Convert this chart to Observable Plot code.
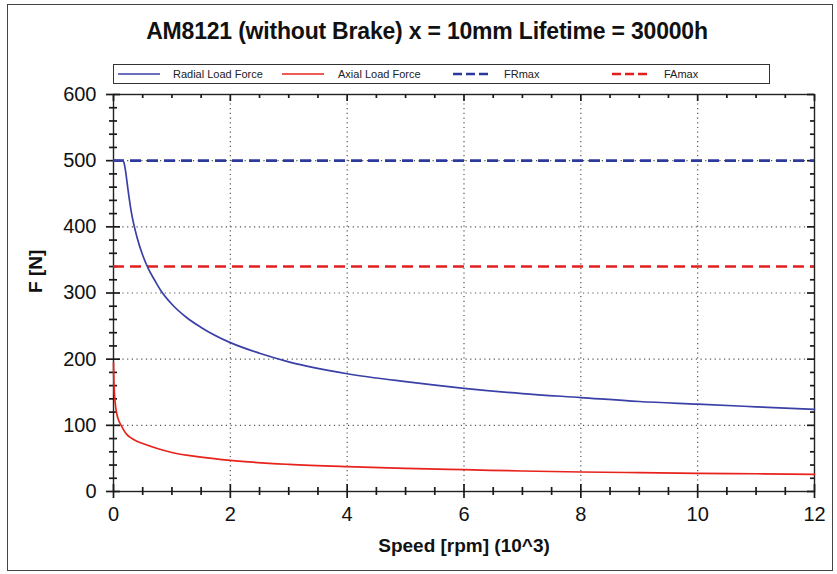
<!DOCTYPE html>
<html>
<head>
<meta charset="utf-8">
<script src="https://cdn.jsdelivr.net/npm/d3@7"></script>
<script src="https://cdn.jsdelivr.net/npm/@observablehq/plot@0.6"></script>
<style>
  body { margin: 0; background: #fff; font-family: "Liberation Sans", Arial, sans-serif; }
  #wrap { position: relative; width: 837px; height: 574px; overflow: hidden; }
  #border { position: absolute; left: 7px; top: 4px; width: 826px; height: 567px; border: 1px solid #444; box-sizing: border-box; }
  #title { position: absolute; left: 0; top: 18px; width: 854px; text-align: center; font-weight: bold; font-size: 23px; color: #111; letter-spacing: -0.2px; }
  #legend { position: absolute; left: 113px; top: 64px; width: 657px; height: 20px; border: 1px solid #333; box-sizing: border-box; font-size: 11px; color: #222; }
  #legend .item { position: absolute; top: 0; height: 18px; line-height: 18px; white-space: nowrap; }
  #legend svg { position: absolute; top: 0; }
  #chart { position: absolute; left: 0; top: 0; }
</style>
</head>
<body>
<div id="wrap">
  <div id="border"></div>
  <div id="title">AM8121 (without Brake) x = 10mm Lifetime = 30000h</div>
  <div id="legend"></div>
  <div id="chart"></div>
</div>
<script>
// Data
const radialSpeed = [0, 0.16, 0.18, 0.2, 0.25, 0.3, 0.4, 0.5, 0.6, 0.7, 0.8, 1, 1.25, 1.5, 2, 2.5, 3, 4, 5, 6, 7, 8, 9, 10, 11, 12];
const radialForce = [500, 500, 497, 488, 455, 425, 385, 357, 336, 320, 305, 283, 263, 248, 225, 209, 196, 178, 166, 156, 148, 142, 136, 132, 128, 124];
const axialSpeed = [0, 0.005, 0.015, 0.03, 0.06, 0.1, 0.13, 0.18, 0.23, 0.3, 0.4, 0.5, 0.75, 1, 1.5, 2, 3, 4, 5, 6, 7, 8, 9, 10, 11, 12];
const axialForce = [195, 172, 150, 133, 116, 105, 100, 92, 86, 81, 76, 72.5, 65, 59, 52, 47, 41, 37.5, 35, 33, 31, 29.5, 28.5, 27.5, 26.8, 26];
const frMax = 500;
const faMax = 340;
const xMajor = [0, 2, 4, 6, 8, 10, 12];
const xMinor = [0.5, 1, 1.5, 2.5, 3, 3.5, 4.5, 5, 5.5, 6.5, 7, 7.5, 8.5, 9, 9.5, 10.5, 11, 11.5];
const yMajor = [0, 100, 200, 300, 400, 500, 600];
const yMinor = [20, 40, 60, 80, 120, 140, 160, 180, 220, 240, 260, 280, 320, 340, 360, 380, 420, 440, 460, 480, 520, 540, 560, 580];
const seriesNames = ["Radial Load Force", "Axial Load Force", "FRmax", "FAmax"];

const blue = "#3a40a6";
const blueDash = "#2c3a9e";
const red = "#e8231d";
const redDash = "#e11f1f";

const radial = radialSpeed.map((s, i) => ({speed: s, force: radialForce[i]}));
const axial = axialSpeed.map((s, i) => ({speed: s, force: axialForce[i]}));

const W = 837, H = 574, mL = 113, mR = 23, mT = 94, mB = 83;
const pw = W - mL - mR, ph = H - mT - mB;
const tk = {stroke: "#1a1a1a", strokeWidth: 1.7};

const chart = Plot.plot({
  width: W,
  height: H,
  marginLeft: mL,
  marginRight: mR,
  marginTop: mT,
  marginBottom: mB,
  style: {fontFamily: "Liberation Sans, Arial, sans-serif", background: "transparent", color: "#111"},
  x: {domain: [0, 12]},
  y: {domain: [0, 600]},
  marks: [
    Plot.ruleX(xMajor.slice(1, -1), {stroke: "#555", strokeDasharray: "1.2,3.5", strokeWidth: 1.2}),
    Plot.ruleY(yMajor.slice(1, -1), {stroke: "#555", strokeDasharray: "1.2,3.5", strokeWidth: 1.2}),
    Plot.frame({stroke: "#222", strokeWidth: 1.4}),
    // bottom crossing ticks
    Plot.ruleX(xMajor, {...tk, insetTop: ph - 7, insetBottom: -7}),
    Plot.ruleX(xMinor, {...tk, insetTop: ph - 4, insetBottom: -4}),
    // top inside ticks
    Plot.ruleX(xMajor, {...tk, insetBottom: ph - 7}),
    Plot.ruleX(xMinor, {...tk, insetBottom: ph - 4}),
    // left crossing ticks
    Plot.ruleY(yMajor, {...tk, insetRight: pw - 7, insetLeft: -7}),
    Plot.ruleY(yMinor, {...tk, insetRight: pw - 4, insetLeft: -4}),
    // right inside ticks
    Plot.ruleY(yMajor, {...tk, insetLeft: pw - 7}),
    Plot.ruleY(yMinor, {...tk, insetLeft: pw - 4}),
    Plot.axisX(xMajor, {tickSize: 0, tickPadding: 15, fontSize: 20, label: null}),
    Plot.axisY(yMajor, {tickSize: 0, tickPadding: 17, fontSize: 20, label: null}),
    Plot.ruleY([frMax], {stroke: blueDash, strokeWidth: 2.6, strokeDasharray: "11,6"}),
    Plot.ruleY([faMax], {stroke: redDash, strokeWidth: 2.6, strokeDasharray: "11,6"}),
    Plot.line(radial, {x: "speed", y: "force", stroke: blue, strokeWidth: 1.7, curve: "monotone-x"}),
    Plot.line(axial, {x: "speed", y: "force", stroke: red, strokeWidth: 1.7, curve: "monotone-x"}),
    Plot.text(["Speed [rpm] (10^3)"], {frameAnchor: "bottom", dy: 60, fontWeight: "bold", fontSize: 19}),
    Plot.text(["F [N]"], {frameAnchor: "left", dx: -78, rotate: -90, fontWeight: "bold", fontSize: 19})
  ]
});
document.getElementById("chart").appendChild(chart);

// Legend
const legend = document.getElementById("legend");
const items = [
  {name: seriesNames[0], color: blue, dash: null, lx: 4, lw: 42, tx: 59},
  {name: seriesNames[1], color: red, dash: null, lx: 168, lw: 42, tx: 224},
  {name: seriesNames[2], color: blueDash, dash: "9,4,9,4,9,4,3", lx: 339, lw: 39, tx: 390},
  {name: seriesNames[3], color: redDash, dash: "9,4,9,4,9,4,3", lx: 498, lw: 39, tx: 550}
];
for (const it of items) {
  const s = d3.create("svg").attr("width", it.lw).attr("height", 18).style("left", it.lx + "px");
  s.append("line").attr("x1", 0).attr("x2", it.lw).attr("y1", 9).attr("y2", 9)
    .attr("stroke", it.color).attr("stroke-width", it.dash ? 2.6 : 1.6)
    .attr("stroke-dasharray", it.dash);
  legend.appendChild(s.node());
  const t = document.createElement("div");
  t.className = "item";
  t.style.left = it.tx + "px";
  t.textContent = it.name;
  legend.appendChild(t);
}
</script>
</body>
</html>
